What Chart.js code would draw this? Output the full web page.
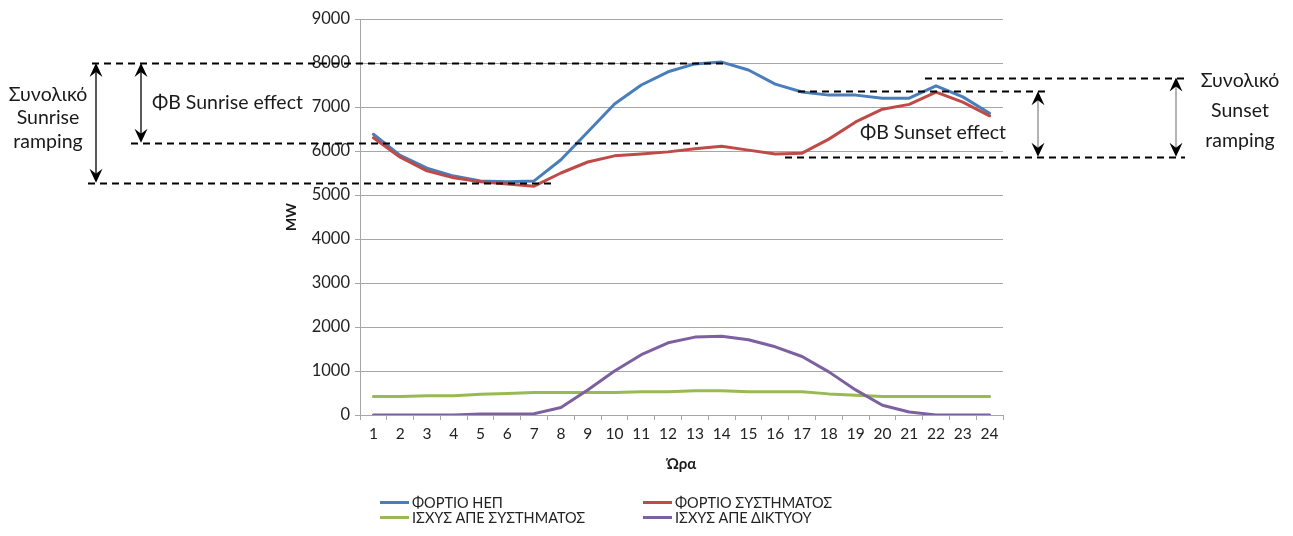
<!DOCTYPE html>
<html lang="el">
<head>
    <meta charset="UTF-8">
    <title>Φορτίο ΗΕΠ - Sunrise / Sunset ramping</title>
    <script src="https://cdn.jsdelivr.net/npm/chart.js@4.4.1/dist/chart.umd.min.js"></script>
    <style>
        body {
            margin: 0;
            background: #fff;
            font-family: Lato, 'Noto Sans', sans-serif;
        }

        .wrap {
            position: relative;
            width: 1293px;
            height: 536px;
        }

        #chart {
            position: absolute;
            left: 0;
            top: 0;
        }

        .legend {
            position: absolute;
            left: 380px;
            top: 495px;
            display: grid;
            grid-template-columns: 263px 263px;
            font-size: 14.5px;
            color: #222;
        }

        .legend-item {
            display: flex;
            align-items: center;
            height: 15px;
        }

        .legend-swatch {
            width: 29px;
            height: 3px;
            margin-right: 3px;
        }
    </style>
</head>
<body>
    <div class="wrap">
        <canvas id="chart" width="1293" height="536"></canvas>
        <div class="legend" id="legend"></div>
    </div>

    <script>
        // Ώρα 1..24
        const hours = ['1', '2', '3', '4', '5', '6', '7', '8', '9', '10', '11', '12',
                       '13', '14', '15', '16', '17', '18', '19', '20', '21', '22', '23', '24'];

        const fortioHep = [6380, 5900, 5610, 5430, 5320, 5300, 5320, 5800, 6430, 7070, 7500, 7800,
                           7980, 8020, 7840, 7520, 7340, 7270, 7270, 7200, 7200, 7480, 7230, 6860];
        const fortioSystimatos = [6300, 5860, 5550, 5390, 5300, 5250, 5200, 5500, 5750, 5890, 5930, 5980,
                                  6050, 6110, 6020, 5930, 5950, 6270, 6660, 6950, 7060, 7340, 7110, 6800];
        const isxysSystimatos = [420, 420, 440, 440, 470, 490, 510, 510, 510, 510, 530, 530,
                                 550, 550, 530, 530, 530, 480, 450, 420, 420, 420, 420, 420];
        const isxysDiktyou = [0, 0, 0, 0, 20, 20, 30, 170, 570, 1000, 1370, 1640,
                              1770, 1790, 1710, 1550, 1330, 980, 570, 220, 70, 0, 0, 0];

        const yTicks = { min: 0, max: 9000, step: 1000 };

        // επίπεδα (MW) για τις διακεκομμένες γραμμές
        const sunriseLevels = [8000, 6190, 5280];
        const sunsetLevels = [7670, 7360, 5870];

        const grid = '#a6a6a6';
        const ink = '#1a1a1a';

        // σχόλια ramping γύρω από το διάγραμμα
        const rampingNotes = {
            id: 'rampingNotes',
            afterDraw(chart) {
                const c = chart.ctx;
                const y = v => chart.scales.y.getPixelForValue(v);

                function dash(x0, x1, v) {
                    c.save();
                    c.strokeStyle = '#000';
                    c.lineWidth = 1.8;
                    c.setLineDash([7, 5]);
                    c.beginPath();
                    c.moveTo(x0, Math.round(y(v)) + 0.5);
                    c.lineTo(x1, Math.round(y(v)) + 0.5);
                    c.stroke();
                    c.restore();
                }

                function head(x, tipY, dir) {
                    c.beginPath();
                    c.moveTo(x, tipY);
                    c.lineTo(x - 6.5, tipY + dir * 14);
                    c.lineTo(x, tipY + dir * 9);
                    c.lineTo(x + 6.5, tipY + dir * 14);
                    c.closePath();
                    c.fill();
                }

                function arrow(x, vTop, vBottom, shaft) {
                    const y0 = y(vTop), y1 = y(vBottom);
                    c.save();
                    c.strokeStyle = shaft;
                    c.lineWidth = 1.3;
                    c.beginPath();
                    c.moveTo(x, y0 + 5);
                    c.lineTo(x, y1 - 5);
                    c.stroke();
                    c.fillStyle = '#000';
                    head(x, y0, 1);
                    head(x, y1, -1);
                    c.restore();
                }

                // Sunrise
                dash(92, 725, sunriseLevels[0]);
                dash(131, 698, sunriseLevels[1]);
                dash(88, 555, sunriseLevels[2]);
                arrow(96, sunriseLevels[0], sunriseLevels[2], '#000');
                arrow(141, sunriseLevels[0], sunriseLevels[1], '#000');

                // Sunset
                dash(925, 1185, sunsetLevels[0]);
                dash(798, 1045, sunsetLevels[1]);
                dash(785, 1185, sunsetLevels[2]);
                arrow(1038, sunsetLevels[1], sunsetLevels[2], '#8c8c8c');
                arrow(1176, sunsetLevels[0], sunsetLevels[2], '#8c8c8c');

                c.save();
                c.fillStyle = ink;
                c.font = '19.5px Lato, sans-serif';
                c.textBaseline = 'middle';
                c.textAlign = 'center';
                c.fillText('Συνολικό', 48, 95);
                c.fillText('Sunrise', 48, 118);
                c.fillText('ramping', 48, 142);
                c.fillText('Συνολικό', 1240, 81);
                c.fillText('Sunset', 1240, 111);
                c.fillText('ramping', 1240, 141);
                c.textAlign = 'left';
                c.fillText('ΦΒ Sunrise effect', 152, 103);
                c.fillText('ΦΒ Sunset effect', 860, 133);
                c.restore();
            }
        };

        const ctx = document.getElementById('chart').getContext('2d');
        const chart = new Chart(ctx, {
            type: 'line',
            data: {
                labels: hours,
                datasets: [
                    { label: 'ΦΟΡΤΙΟ ΗΕΠ', data: fortioHep, borderColor: '#4a7ebb', order: 4 },
                    { label: 'ΦΟΡΤΙΟ ΣΥΣΤΗΜΑΤΟΣ', data: fortioSystimatos, borderColor: '#be4b48', order: 3 },
                    { label: 'ΙΣΧΥΣ ΑΠΕ ΣΥΣΤΗΜΑΤΟΣ', data: isxysSystimatos, borderColor: '#98b954', order: 2 },
                    { label: 'ΙΣΧΥΣ ΑΠΕ ΔΙΚΤΥΟΥ', data: isxysDiktyou, borderColor: '#7d60a0', order: 1 }
                ]
            },
            options: {
                responsive: false,
                animation: false,
                layout: { padding: { left: 279, right: 290, top: 19, bottom: 59 } },
                elements: {
                    point: { radius: 0 },
                    line: { borderWidth: 3, tension: 0, borderCapStyle: 'round', borderJoinStyle: 'round' }
                },
                plugins: {
                    legend: { display: false },
                    tooltip: { enabled: false }
                },
                scales: {
                    x: {
                        offset: true,
                        grid: { offset: true, drawOnChartArea: false, color: grid, tickLength: 5 },
                        border: { color: grid },
                        ticks: { font: { family: 'Lato', size: 15.5 }, color: '#222', padding: 5, maxRotation: 0, autoSkip: false },
                        title: { display: true, text: 'Ώρα', color: ink, font: { family: 'Lato', size: 15, weight: 'bold' }, padding: { top: 4, bottom: 4 } },
                        afterFit(s) { s.height = 62; }
                    },
                    y: {
                        min: yTicks.min,
                        max: yTicks.max,
                        grid: { color: grid, tickLength: 5 },
                        border: { color: grid },
                        ticks: {
                            stepSize: yTicks.step,
                            font: { family: 'Lato', size: 16.5 },
                            color: '#222',
                            padding: 5,
                            callback: v => String(v)
                        },
                        title: { display: true, text: 'MW', color: ink, font: { family: 'Lato', size: 14, weight: 'bold' }, padding: { top: 4, bottom: 4 } },
                        afterFit(s) { s.width = 81; }
                    }
                }
            },
            plugins: [rampingNotes]
        });

        // υπόμνημα σε δύο στήλες
        const legend = document.getElementById('legend');
        chart.data.datasets.forEach(ds => {
            const item = document.createElement('div');
            item.className = 'legend-item';
            item.innerHTML = '<span class="legend-swatch" style="background:' + ds.borderColor + '"></span>' + ds.label;
            legend.appendChild(item);
        });
    </script>
</body>
</html>
